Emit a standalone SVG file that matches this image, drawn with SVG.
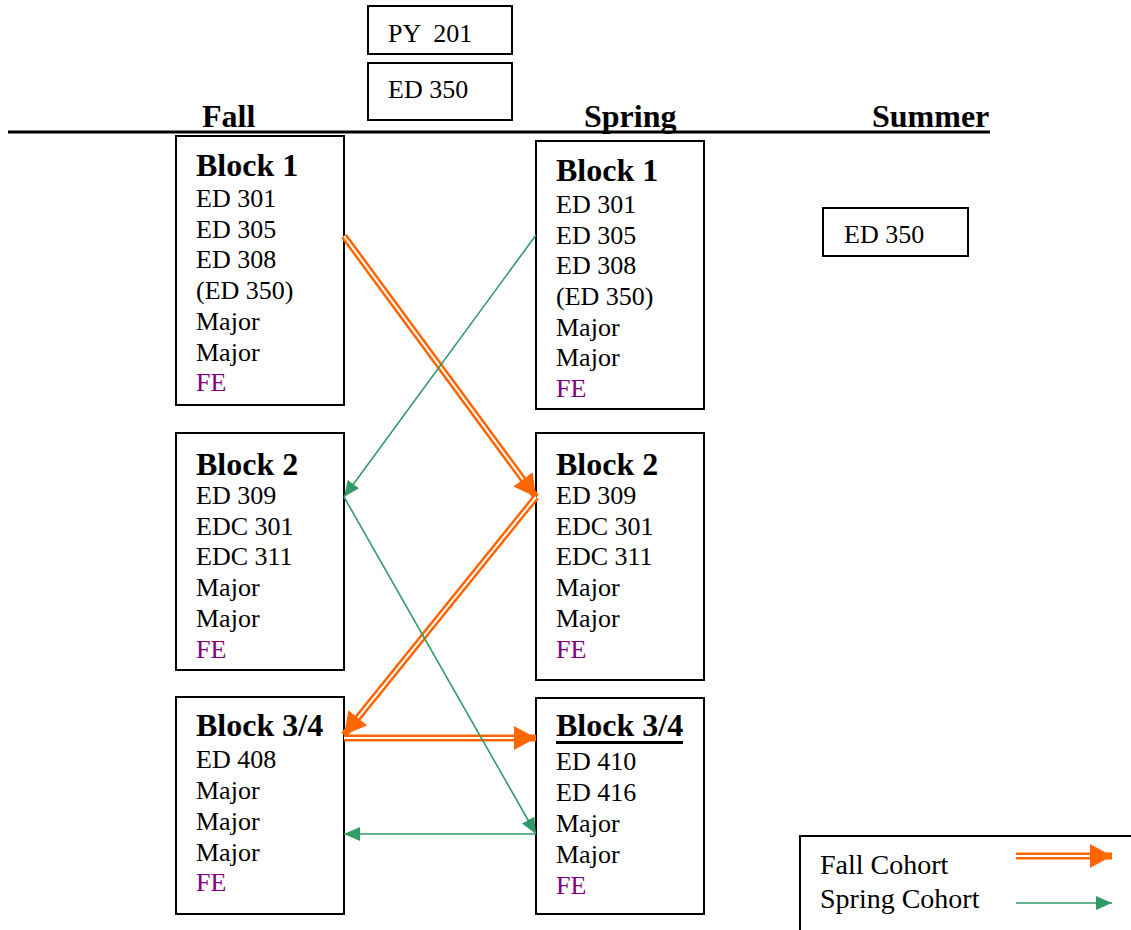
<svg xmlns="http://www.w3.org/2000/svg" width="1131" height="930" viewBox="0 0 1131 930">
<style>
.box{fill:#fff;stroke:#000;stroke-width:2}
.t{font-family:"Liberation Serif",serif;font-size:26px;fill:#000}
.h{font-family:"Liberation Serif",serif;font-size:32px;font-weight:bold;fill:#000}
.fe{fill:#800080}
.lg{font-family:"Liberation Serif",serif;font-size:28px;fill:#000}
.or{fill:none;stroke:#FF6600;stroke-width:7}
.ow{fill:none;stroke:#fff;stroke-width:2}
.gr{fill:none;stroke:#339966;stroke-width:1.6}
</style>
<defs>
<marker id="ah" markerUnits="userSpaceOnUse" markerWidth="22" markerHeight="24" refX="22" refY="12" orient="auto"><path d="M0,0 L22,12 L0,24 z" fill="#FF6600"/></marker>
<marker id="gh" markerUnits="userSpaceOnUse" markerWidth="16" markerHeight="14" refX="16" refY="7" orient="auto"><path d="M0,0 L16,7 L0,14 z" fill="#339966"/></marker>
</defs>
<rect width="1131" height="930" fill="#fff"/>
<line x1="8" y1="132" x2="990" y2="132" stroke="#000" stroke-width="3"/>
<g id="headers">
<text class="h" x="202" y="127">Fall</text>
<text class="h" x="584" y="127">Spring</text>
<text class="h" x="872" y="127">Summer</text>
</g>
<g id="py201"><rect class="box" x="368" y="6" width="144" height="48"/><text class="t" x="388" y="42" xml:space="preserve">PY  201</text></g>
<g id="ed350top"><rect class="box" x="368" y="63" width="144" height="57"/><text class="t" x="388" y="98">ED 350</text></g>
<g id="ed350summer"><rect class="box" x="823" y="208" width="145" height="48"/><text class="t" x="844" y="243">ED 350</text></g>
<g id="fall1"><rect class="box" x="176" y="136" width="168" height="269"/>
<text class="h" x="196" y="176">Block 1</text>
<text class="t" x="196" y="207">ED 301</text>
<text class="t" x="196" y="238">ED 305</text>
<text class="t" x="196" y="268">ED 308</text>
<text class="t" x="196" y="299">(ED 350)</text>
<text class="t" x="196" y="330">Major</text>
<text class="t" x="196" y="361">Major</text>
<text class="t fe" x="196" y="391">FE</text></g>
<g id="spring1"><rect class="box" x="536" y="141" width="168" height="268"/>
<text class="h" x="556" y="181">Block 1</text>
<text class="t" x="556" y="213">ED 301</text>
<text class="t" x="556" y="244">ED 305</text>
<text class="t" x="556" y="274">ED 308</text>
<text class="t" x="556" y="305">(ED 350)</text>
<text class="t" x="556" y="336">Major</text>
<text class="t" x="556" y="366">Major</text>
<text class="t fe" x="556" y="397">FE</text></g>
<g id="fall2"><rect class="box" x="176" y="433" width="168" height="237"/>
<text class="h" x="196" y="475">Block 2</text>
<text class="t" x="196" y="504">ED 309</text>
<text class="t" x="196" y="535">EDC 301</text>
<text class="t" x="196" y="565">EDC 311</text>
<text class="t" x="196" y="596">Major</text>
<text class="t" x="196" y="627">Major</text>
<text class="t fe" x="196" y="658">FE</text></g>
<g id="spring2"><rect class="box" x="536" y="433" width="168" height="247"/>
<text class="h" x="556" y="475">Block 2</text>
<text class="t" x="556" y="504">ED 309</text>
<text class="t" x="556" y="535">EDC 301</text>
<text class="t" x="556" y="565">EDC 311</text>
<text class="t" x="556" y="596">Major</text>
<text class="t" x="556" y="627">Major</text>
<text class="t fe" x="556" y="658">FE</text></g>
<g id="fall34"><rect class="box" x="176" y="697" width="168" height="217"/>
<text class="h" x="196" y="736">Block 3/4</text>
<text class="t" x="196" y="768">ED 408</text>
<text class="t" x="196" y="799">Major</text>
<text class="t" x="196" y="830">Major</text>
<text class="t" x="196" y="861">Major</text>
<text class="t fe" x="196" y="891">FE</text></g>
<g id="spring34"><rect class="box" x="536" y="698" width="168" height="216"/>
<text class="h" x="556" y="736">Block 3/4</text>
<line x1="556" y1="742.5" x2="683" y2="742.5" stroke="#000" stroke-width="3"/>
<text class="t" x="556" y="770">ED 410</text>
<text class="t" x="556" y="801">ED 416</text>
<text class="t" x="556" y="832">Major</text>
<text class="t" x="556" y="863">Major</text>
<text class="t fe" x="556" y="894">FE</text></g>
<g id="connectors">
<path class="or" d="M344,236 L536,497" marker-end="url(#ah)"/>
<path class="ow" d="M344,236 L523,479.3"/>
<path class="or" d="M536,497 L344,735" marker-end="url(#ah)"/>
<path class="ow" d="M536,497 L357.8,717.9"/>
<path class="or" d="M344,738 L536,738" marker-end="url(#ah)"/>
<path class="ow" d="M344,738 L514,738"/>
<path class="gr" d="M536,235 L344,497" marker-end="url(#gh)"/>
<path class="gr" d="M344,497 L536,834" marker-end="url(#gh)"/>
<path class="gr" d="M536,834 L344,834" marker-end="url(#gh)"/>
</g>
<g id="legend">
<path d="M800,930 L800,836 L1131,836" fill="none" stroke="#000" stroke-width="2"/>
<text class="lg" x="820" y="874">Fall Cohort</text>
<text class="lg" x="820" y="908">Spring Cohort</text>
<path class="or" d="M1016,856 L1112,856" marker-end="url(#ah)"/>
<path class="ow" d="M1016,856 L1090,856"/>
<path class="gr" d="M1016,903 L1112,903" marker-end="url(#gh)"/>
</g>
</svg>
